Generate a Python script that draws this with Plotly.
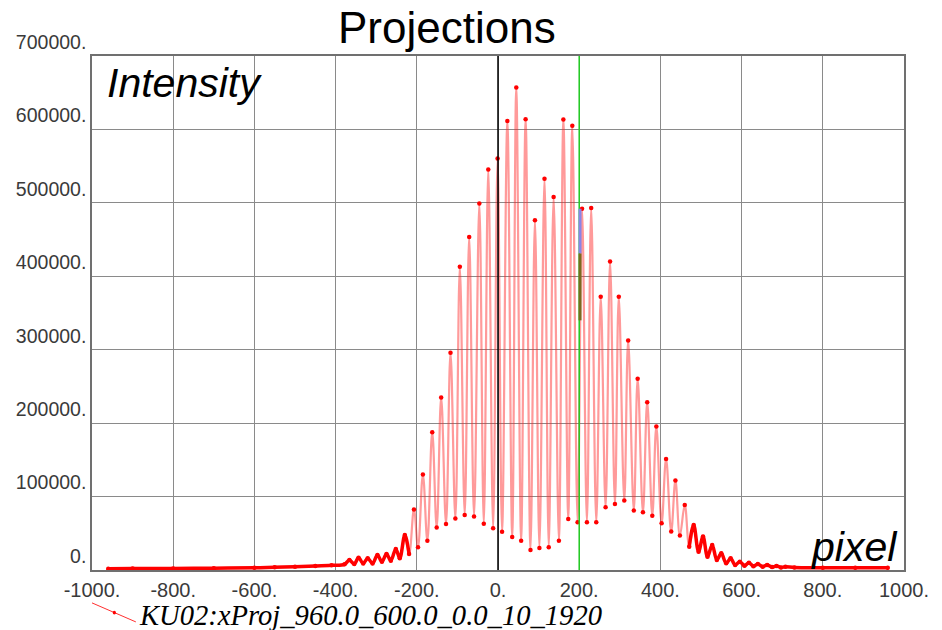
import plotly.graph_objects as go

# ---- data (peaks / troughs of the projection) ----
pixel = [-960, -900, -800, -700, -600, -550, -500, -450, -410, -378,
         -366, -354, -343.5, -332, -321, -309, -297, -286, -274.6, -264,
         -251.7, -242, -229.5, -219, -207, -197, -185, -174, -162, -151,
         -140, -128, -117, -105, -94, -82, -71, -59, -46, -35,
         -24, -12, -1, 10, 23, 35, 45, 57, 68, 80,
         91, 102, 114.5, 125, 137, 150, 161, 173, 183, 196,
         207, 219, 229.5, 242, 253, 265, 276, 288, 297.5, 311,
         320.6, 334.5, 344, 357, 367.5, 380, 390, 403, 414, 426.6,
         437, 448, 460, 471, 482, 494, 505, 516, 527.6, 539,
         550, 562, 573, 584, 595.6, 607, 618, 629, 640, 652,
         663, 675, 686, 697, 708, 730, 800, 880, 960]
intensity = [1800, 2000, 2200, 2500, 3000, 3800, 4500, 5500, 6500, 7700,
             13600, 8200, 16800, 9000, 15900, 9000, 20400, 11300, 21800, 12700,
             28600, 15900, 47600, 21800, 82500, 31000, 130000, 40000, 187700, 58000,
             235000, 62700, 296000, 70000, 413000, 75000, 453600, 73000, 499000, 63000,
             545500, 57000, 560500, 52000, 611500, 45000, 657000, 40000, 614000, 27300,
             476400, 30000, 533000, 31000, 508000, 40000, 613600, 69500, 605000, 65000,
             492000, 65000, 493000, 65000, 372000, 85500, 420000, 90000, 372000, 94500,
             312700, 81000, 260400, 78600, 228600, 74000, 195400, 63600, 151300, 52300,
             122000, 47000, 88600, 31800, 61400, 25000, 45500, 18200, 34000, 13600,
             22700, 9100, 15900, 6800, 11400, 5900, 10000, 5000, 8200, 4500,
             6800, 4000, 5500, 3500, 4500, 3500, 3200, 3000, 3000]

# cursor marks near x=200
cursor_x = 202
cursor_blue = [492000, 431000]
cursor_olive = [431000, 340000]

x_ticks = [-1000, -800, -600, -400, -200, 0, 200, 400, 600, 800, 1000]
x_ticktext = ["-1000.", "-800.", "-600.", "-400.", "-200.", "0.", "200.", "400.", "600.", "800.", "1000."]
y_ticks = [0, 100000, 200000, 300000, 400000, 500000, 600000, 700000]
y_ticktext = ["0.", "100000.", "200000.", "300000.", "400000.", "500000.", "600000.", "700000."]

series_name = "KU02:xProj_960.0_600.0_0.0_10_1920"

# ---- figure ----
fig = go.Figure()
fig.add_trace(go.Scatter(
    x=pixel, y=intensity, mode="lines+markers", name=series_name,
    line=dict(color="rgba(255,30,30,0.45)", width=2.2, shape="spline", smoothing=1.1),
    marker=dict(color="#ff0000", size=4.5),
    showlegend=False))

# low-amplitude parts appear as a thick solid red band (dense markers)
lx = [p for p in pixel if p <= -219]
ly = [v for p, v in zip(pixel, intensity) if p <= -219]
rx = [p for p in pixel if p >= 471]
ry = [v for p, v in zip(pixel, intensity) if p >= 471]
for xs, ys in ((lx, ly), (rx, ry)):
    fig.add_trace(go.Scatter(x=xs, y=ys, mode="lines",
                             line=dict(color="#ff0000", width=3.5, shape="spline", smoothing=1.0),
                             showlegend=False, hoverinfo="skip"))

# reference lines
fig.add_shape(type="line", xref="x", yref="paper", x0=0, x1=0, y0=0, y1=1,
              line=dict(color="#000000", width=1.5))
fig.add_shape(type="line", xref="x", yref="paper", x0=200, x1=200, y0=0, y1=1,
              line=dict(color="#22cc22", width=1.5))
# cursor segments drawn over the green line
fig.add_shape(type="line", xref="x", yref="y", x0=cursor_x, x1=cursor_x,
              y0=cursor_blue[0], y1=cursor_blue[1], line=dict(color="#8a84e8", width=3))
fig.add_shape(type="line", xref="x", yref="y", x0=cursor_x, x1=cursor_x,
              y0=cursor_olive[0], y1=cursor_olive[1], line=dict(color="#7a6a20", width=3))

# legend glyph (diagonal line with dot) + label
fig.add_shape(type="line", xref="paper", yref="paper", x0=0.0, y0=-0.064, x1=0.054, y1=-0.101,
              line=dict(color="#ff3030", width=1))
fig.add_shape(type="circle", xref="paper", yref="paper", x0=0.0255, y0=-0.0795, x1=0.0295, y1=-0.0865,
              fillcolor="#ff0000", line=dict(color="#ff0000", width=0))

annos = [
    dict(text="Projections", x=0.437, y=1.056, xref="paper", yref="paper",
         xanchor="center", yanchor="middle", showarrow=False,
         font=dict(family="Liberation Sans, Arial, sans-serif", size=44, color="#000000")),
    dict(text="<i>Intensity</i>", x=0.0165, y=0.9475, xref="paper", yref="paper",
         xanchor="left", yanchor="middle", showarrow=False,
         font=dict(family="Liberation Sans, Arial, sans-serif", size=41, color="#000000")),
    dict(text="<i>pixel</i>", x=0.9945, y=0.045, xref="paper", yref="paper",
         xanchor="right", yanchor="middle", showarrow=False,
         font=dict(family="Liberation Sans, Arial, sans-serif", size=41, color="#000000")),
    dict(text="<i>" + series_name + "</i>", x=0.0555, y=-0.088, xref="paper", yref="paper",
         xanchor="left", yanchor="middle", showarrow=False,
         font=dict(family="Liberation Serif, Times New Roman, serif", size=28.6, color="#000000")),
]

axis_font = dict(family="Liberation Sans, Arial, sans-serif", size=20, color="#3a3a3a")
yaxis_font = dict(family="Liberation Sans, Arial, sans-serif", size=19.5, color="#3a3a3a")
fig.update_layout(
    width=942, height=630, autosize=False,
    margin=dict(l=92, r=38, t=56, b=60, pad=0),
    paper_bgcolor="#ffffff", plot_bgcolor="#ffffff",
    annotations=annos, showlegend=False,
    xaxis=dict(range=[-1000, 1000], tickvals=x_ticks, ticktext=x_ticktext,
               showgrid=True, gridcolor="#8a8a8a", gridwidth=1, zeroline=False,
               showline=True, linecolor="#707070", linewidth=1.5, mirror=True,
               ticks="", tickfont=axis_font, ticklabelstandoff=1),
    yaxis=dict(range=[0, 700000], tickvals=y_ticks, ticktext=y_ticktext,
               showgrid=True, gridcolor="#8a8a8a", gridwidth=1, zeroline=False,
               showline=True, linecolor="#707070", linewidth=1.5, mirror=True,
               ticks="inside", ticklen=0, tickfont=yaxis_font,
               ticklabelshift=-14, ticklabelstandoff=0),
)

fig.write_html("out.html")
